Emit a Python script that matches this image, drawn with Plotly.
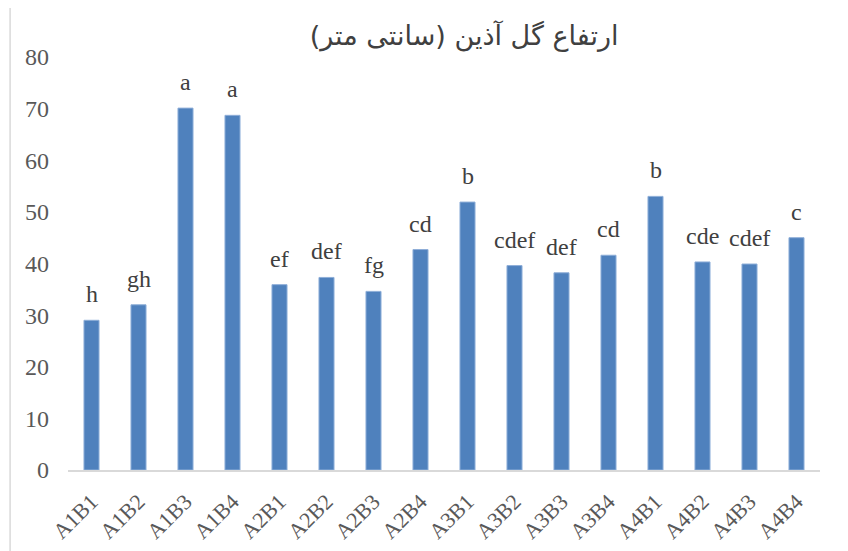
import plotly.graph_objects as go

treatments = ["A1B1", "A1B2", "A1B3", "A1B4", "A2B1", "A2B2", "A2B3", "A2B4",
              "A3B1", "A3B2", "A3B3", "A3B4", "A4B1", "A4B2", "A4B3", "A4B4"]
height_cm = [29.0, 32.0, 70.1, 68.7, 35.9, 37.3, 34.6, 42.7,
             51.9, 39.6, 38.2, 41.6, 53.0, 40.3, 39.9, 45.0]
letters = ["h", "gh", "a", "a", "ef", "def", "fg", "cd",
           "b", "cdef", "def", "cd", "b", "cde", "cdef", "c"]

serif = "Liberation Serif, Times New Roman, serif"

fig = go.Figure()
fig.add_trace(
    go.Bar(
        x=treatments,
        y=height_cm,
        marker=dict(color="#4f81bd", line=dict(color="#8eaed8", width=1)),
        width=0.32,
        hoverinfo="x+y",
    )
)

# significance letters above the bars
for t, h, lab in zip(treatments, height_cm, letters):
    fig.add_annotation(
        x=t, y=h, text=lab, showarrow=False,
        yanchor="bottom", yshift=11,
        font=dict(family=serif, size=24, color="#404040"),
    )

# page body adds an 8px offset, so the figure is 8px smaller than the window
fig.update_layout(
    title=dict(
        text="ارتفاع گل آذین (سانتی متر)",
        x=0.543,
        y=0.95,
        xanchor="center",
        yanchor="middle",
        font=dict(family="DejaVu Sans, Noto Sans, sans-serif", size=27, color="#404040"),
    ),
    width=840,
    height=543,
    plot_bgcolor="white",
    paper_bgcolor="white",
    showlegend=False,
    margin=dict(l=60, r=28, t=49, b=81),
    font=dict(family=serif, color="#595959"),
    shapes=[
        dict(type="line", xref="paper", yref="paper", x0=-0.077, x1=-0.077, y0=-0.3, y1=1.3,
             line=dict(color="#d9d9d9", width=1.5)),
    ],
)
fig.update_xaxes(
    showline=True,
    linecolor="#d9d9d9",
    linewidth=2,
    showgrid=False,
    tickangle=-45,
    ticklabelstandoff=8,
    automargin=False,
    tickfont=dict(family=serif, size=22, color="#595959"),
)
fig.update_yaxes(
    range=[0, 80],
    dtick=10,
    showgrid=False,
    zeroline=False,
    showline=False,
    automargin=False,
    ticklabelstandoff=18,
    tickfont=dict(family=serif, size=24, color="#595959"),
)

fig.write_html("out.html")
